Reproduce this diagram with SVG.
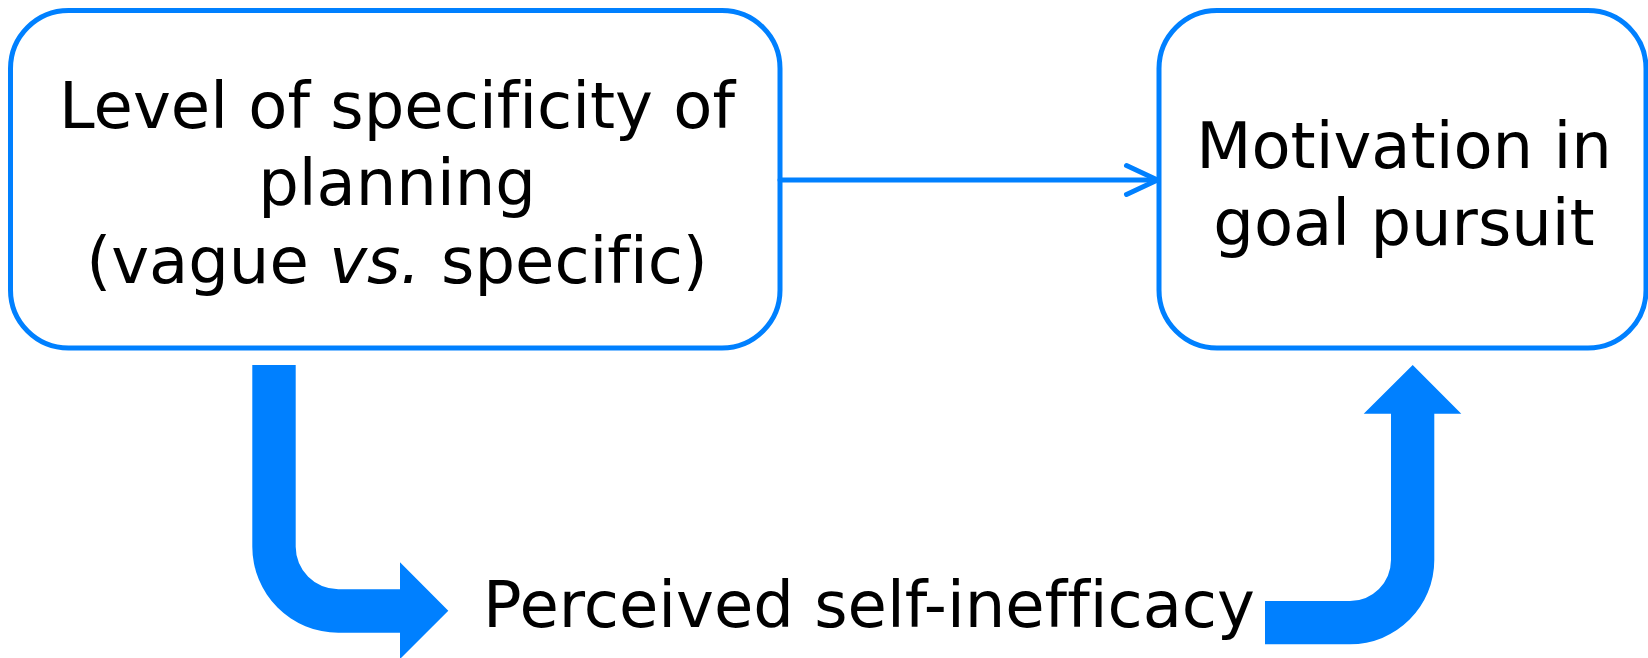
<svg xmlns="http://www.w3.org/2000/svg" width="1648" height="658" viewBox="0 0 1648 658">
<defs>
<style>
.box{fill:#fff;stroke:#0080ff;stroke-width:5}
.lbl{font-family:"DejaVu Sans",Verdana,sans-serif;font-size:64px;fill:#000;text-anchor:middle;font-variant-ligatures:none}
.thin{fill:none;stroke:#0080ff;stroke-width:5;stroke-linecap:round;stroke-linejoin:round}
.thick{fill:#0080ff;stroke:none}
</style>
</defs>
<rect width="1648" height="658" fill="#fff"/>
<g id="planning">
<rect class="box" x="10.5" y="10.5" width="769.5" height="337.5" rx="58" ry="58"/>
<text class="lbl" x="397" y="128">Level of specificity of</text>
<text class="lbl" x="397" y="205">planning</text>
<text class="lbl" x="397" y="283">(vague <tspan font-style="italic">vs.</tspan> specific)</text>
</g>
<g id="motivation">
<rect class="box" x="1159" y="10.5" width="487" height="337.5" rx="58" ry="58"/>
<text class="lbl" x="1404" y="167.5">Motivation in</text>
<text class="lbl" x="1404" y="244.5">goal pursuit</text>
</g>
<g id="selfinefficacy">
<text class="lbl" x="869" y="627.3">Perceived self-inefficacy</text>
</g>
<g id="connectors">
<path class="thin" d="M780,180 H1157"/>
<path class="thin" d="M1126.5,165.5 L1157.5,180 L1126.5,194.5"/>
<path class="thick" d="M252.3,365 H295.7 V546.7 A42.6,42.6 0 0 0 338.3,589.3 H400 V562.3 L448.3,610.7 L400,659 V632.7 H338.3 A86,86 0 0 1 252.3,546.7 Z"/>
<path class="thick" d="M1265,601 H1350 A41,41 0 0 0 1391,560 V413.7 H1363.7 L1412.7,365 L1461.3,413.7 H1434.3 V560 A84.3,84.3 0 0 1 1350,644.3 H1265 Z"/>
</g>
</svg>
